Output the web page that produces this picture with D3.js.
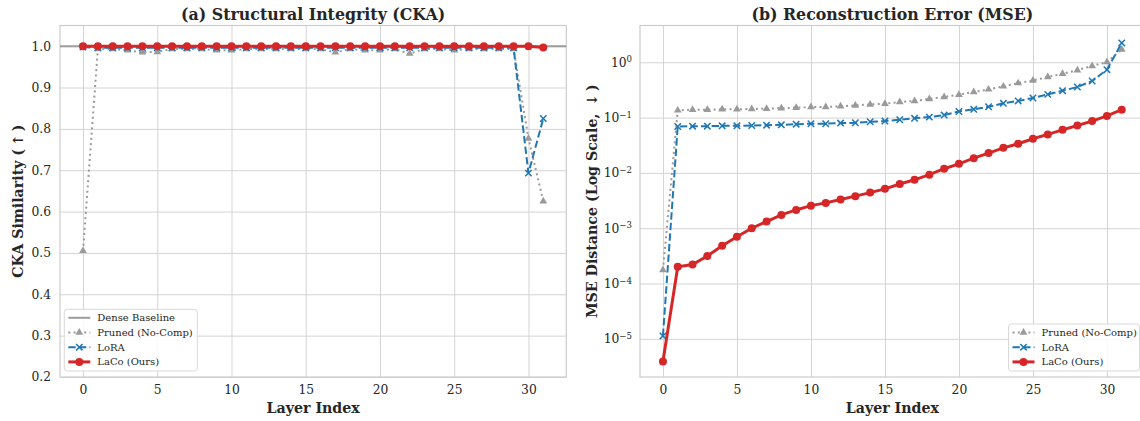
<!DOCTYPE html>
<html>
<head>
<meta charset="utf-8">
<script src="https://cdn.jsdelivr.net/npm/d3@7"></script>
<style>
  body { margin: 0; background: #fff; }
  svg { display: block; font-family: "DejaVu Serif", serif; }
  .tick text { fill: #262626; font-size: 12.3px; font-family: "DejaVu Serif", serif; }
  .grid line { stroke: #d4d4d4; stroke-width: 1; }
</style>
</head>
<body>
<script>

// layer index 0..31
var layers = [0,1,2,3,4,5,6,7,8,9,10,11,12,13,14,15,16,17,18,19,20,21,22,23,24,25,26,27,28,29,30,31];

// (a) CKA similarity per layer
var ckaPruned = [0.505,0.993,0.993,0.99,0.985,0.986,0.993,0.993,0.993,0.99,0.99,0.993,0.993,0.993,0.993,0.993,0.993,0.985,0.993,0.99,0.99,0.993,0.982,0.993,0.993,0.99,0.993,0.993,0.993,0.993,0.777,0.625];
var ckaLora   = [0.998,0.996,0.996,0.996,0.996,0.996,0.996,0.996,0.996,0.996,0.996,0.996,0.996,0.996,0.996,0.996,0.996,0.996,0.996,0.996,0.996,0.996,0.996,0.996,0.996,0.996,0.996,0.996,0.996,0.996,0.693,0.825];
var ckaLaco   = [1,1,1,1,1,1,1,1,1,1,1,1,1,1,1,1,1,1,1,1,1,1,1,1,1,1,1,1,1,1,1,0.997];
var denseBaseline = 1.0;

// (b) reconstruction error (MSE) per layer
var msePruned = [1.76e-4,0.135,0.139,0.139,0.141,0.141,0.143,0.145,0.148,0.151,0.155,0.155,0.160,0.166,0.173,0.178,0.191,0.200,0.217,0.236,0.26,0.29,0.324,0.367,0.42,0.47,0.54,0.62,0.72,0.86,1.01,1.70];
var mseLora   = [1.13e-5,0.069,0.070,0.070,0.071,0.071,0.072,0.073,0.074,0.076,0.0775,0.0775,0.0796,0.0807,0.084,0.0865,0.0915,0.097,0.102,0.111,0.129,0.141,0.157,0.181,0.20,0.226,0.263,0.307,0.357,0.459,0.736,2.24];
var mseLaco   = [3.9e-6,2.0e-4,2.2e-4,3.15e-4,4.8e-4,7.0e-4,1.0e-3,1.32e-3,1.74e-3,2.14e-3,2.56e-3,2.87e-3,3.3e-3,3.8e-3,4.4e-3,5.15e-3,6.3e-3,7.5e-3,9.3e-3,0.0119,0.0146,0.0185,0.0228,0.0284,0.0336,0.0414,0.0497,0.060,0.072,0.0865,0.107,0.139];

var xTicks = [0,5,10,15,20,25,30];
var ckaTicks = [0.2,0.3,0.4,0.5,0.6,0.7,0.8,0.9,1.0];
var mseTicks = [1e-5,1e-4,1e-3,1e-2,1e-1,1];

var colors = { dense: "#9c9c9c", pruned: "#9a9a9a", lora: "#1f77b4", laco: "#d62728" };

var W = 1140, H = 421;
var yTop = 25.5, yBottom = 377;

var svg = d3.select("body").append("svg")
    .attr("width", W)
    .attr("height", H);

function makeXY(x0, x1, y) {
  var x = d3.scaleLinear().domain([-1.55, 32.55]).range([x0, x1]);
  return { x: x, y: y, x0: x0, x1: x1 };
}

var left = makeXY(60, 566.3, d3.scaleLinear().domain([0.2, 1.05]).range([yBottom, yTop]));
var right = makeXY(640, 1144.7, d3.scaleLog().domain([Math.pow(10, -5.69), Math.pow(10, 0.665)]).range([yBottom, yTop]));

function frame(p, id, yTickVals, yFmt, pad) {
  var g = svg.append("g");
  svg.append("clipPath").attr("id", id)
    .append("rect").attr("x", p.x0).attr("y", yTop).attr("width", p.x1 - p.x0).attr("height", yBottom - yTop);

  // grid + tick labels
  var xa = g.append("g").attr("class", "grid")
      .attr("transform", "translate(0," + yBottom + ")")
      .call(d3.axisBottom(p.x).tickValues(xTicks).tickSize(-(yBottom - yTop)).tickPadding(8).tickFormat(d3.format("d")));
  xa.select(".domain").remove();

  var ya = g.append("g").attr("class", "grid")
      .attr("transform", "translate(" + p.x0 + ",0)")
      .call(d3.axisLeft(p.y).tickValues(yTickVals).tickSize(-(p.x1 - p.x0)).tickPadding(pad).tickFormat(yFmt));
  ya.select(".domain").remove();

  g.append("rect")
    .attr("x", p.x0).attr("y", yTop)
    .attr("width", p.x1 - p.x0).attr("height", yBottom - yTop)
    .attr("fill", "none").attr("stroke", "#cccccc").attr("stroke-width", 1.2);
  return { g: g, ya: ya };
}

var fa = frame(left, "clipL", ckaTicks, d3.format(".1f"), 9);
var fb = frame(right, "clipR", mseTicks, function() { return ""; }, 8);

// superscript tick labels for the log axis
fb.ya.selectAll(".tick text").each(function(d) {
  var t = d3.select(this);
  var e = Math.round(Math.log10(d));
  t.text(null);
  t.append("tspan").text("10");
  t.append("tspan").attr("dy", "-0.5em").style("font-size", "8.6px")
    .text(e < 0 ? "\u2212" + (-e) : e);
});

function drawSeries(p, clip, vals, kind) {
  var g = svg.append("g").attr("clip-path", "url(#" + clip + ")");
  var line = d3.line()
    .x(function(d, i) { return p.x(layers[i]); })
    .y(function(d) { return p.y(d); });
  var path = g.append("path").datum(vals)
    .attr("d", line)
    .attr("fill", "none")
    .attr("stroke", colors[kind]);
  if (kind === "pruned") path.attr("stroke-width", 2).attr("stroke-dasharray", "2,3.3");
  if (kind === "lora") path.attr("stroke-width", 2).attr("stroke-dasharray", "7.4,3.2");
  if (kind === "laco") path.attr("stroke-width", 3);
  drawMarkers(g, vals.map(function(d, i) { return [p.x(layers[i]), p.y(d)]; }), kind);
}

function drawMarkers(g, pts, kind) {
  var m = g.selectAll(".m-" + kind).data(pts).enter();
  if (kind === "pruned") {
    m.append("path")
      .attr("d", d3.symbol(d3.symbolTriangle).size(26))
      .attr("transform", function(d) { return "translate(" + d[0] + "," + d[1] + ")"; })
      .attr("fill", colors.pruned);
  } else if (kind === "lora") {
    m.append("path")
      .attr("d", "M-3.2,-3.2L3.2,3.2M-3.2,3.2L3.2,-3.2")
      .attr("transform", function(d) { return "translate(" + d[0] + "," + d[1] + ")"; })
      .attr("stroke", colors.lora).attr("stroke-width", 1.5).attr("fill", "none");
  } else if (kind === "laco") {
    m.append("circle")
      .attr("cx", function(d) { return d[0]; })
      .attr("cy", function(d) { return d[1]; })
      .attr("r", 4).attr("fill", colors.laco);
  }
}

// (a) Dense baseline
svg.append("line")
  .attr("x1", left.x0).attr("x2", left.x1)
  .attr("y1", left.y(denseBaseline)).attr("y2", left.y(denseBaseline))
  .attr("stroke", colors.dense).attr("stroke-width", 2);

drawSeries(left, "clipL", ckaPruned, "pruned");
drawSeries(left, "clipL", ckaLora, "lora");
drawSeries(left, "clipL", ckaLaco, "laco");

drawSeries(right, "clipR", msePruned, "pruned");
drawSeries(right, "clipR", mseLora, "lora");
drawSeries(right, "clipR", mseLaco, "laco");

// titles and axis labels
function labels(p, title, ylab, yx) {
  var cx = (p.x0 + p.x1) / 2;
  svg.append("text").attr("x", cx).attr("y", 19.5)
    .attr("text-anchor", "middle").attr("font-weight", "bold").attr("font-size", "15.8px")
    .attr("fill", "#262626").text(title);
  svg.append("text").attr("x", cx).attr("y", 413)
    .attr("text-anchor", "middle").attr("font-weight", "bold").attr("font-size", "14.2px")
    .attr("fill", "#262626").text("Layer Index");
  svg.append("text")
    .attr("transform", "translate(" + yx + "," + ((yTop + yBottom) / 2) + ") rotate(-90)")
    .attr("text-anchor", "middle").attr("font-weight", "bold").attr("font-size", "14.2px")
    .attr("fill", "#262626").text(ylab);
}
labels(left, "(a) Structural Integrity (CKA)", "CKA Similarity (\u2009\u2191\u2009)", 23);
labels(right, "(b) Reconstruction Error (MSE)", "MSE Distance (Log Scale, \u2009\u2193\u2009)", 597);

// legends
function legend(bx, by, bw, bh, items) {
  var g = svg.append("g");
  g.append("rect").attr("x", bx).attr("y", by).attr("width", bw).attr("height", bh)
    .attr("rx", 3).attr("fill", "#fff").attr("fill-opacity", 0.85)
    .attr("stroke", "#d9d9d9");
  items.forEach(function(it, i) {
    var cy = by + 8.5 + i * 14.7;
    var hx0 = bx + 4, hx1 = bx + 26;
    var ln = g.append("line").attr("x1", hx0).attr("x2", hx1).attr("y1", cy).attr("y2", cy)
      .attr("stroke", colors[it.kind]);
    if (it.kind === "dense") ln.attr("stroke-width", 2);
    if (it.kind === "pruned") ln.attr("stroke-width", 2).attr("stroke-dasharray", "2,3.3");
    if (it.kind === "lora") ln.attr("stroke-width", 2).attr("stroke-dasharray", "7.4,3.2");
    if (it.kind === "laco") ln.attr("stroke-width", 3);
    if (it.kind !== "dense") drawMarkers(g, [[(hx0 + hx1) / 2, cy]], it.kind);
    g.append("text").attr("x", bx + 33).attr("y", cy).attr("dy", "0.35em")
      .attr("font-size", "10px").attr("fill", "#262626").text(it.label);
  });
}

legend(64.3, 309.3, 133, 61.7, [
  { kind: "dense", label: "Dense Baseline" },
  { kind: "pruned", label: "Pruned (No-Comp)" },
  { kind: "lora", label: "LoRA" },
  { kind: "laco", label: "LaCo (Ours)" }
]);
legend(1008.5, 324, 131, 47, [
  { kind: "pruned", label: "Pruned (No-Comp)" },
  { kind: "lora", label: "LoRA" },
  { kind: "laco", label: "LaCo (Ours)" }
]);

</script>
</body>
</html>
